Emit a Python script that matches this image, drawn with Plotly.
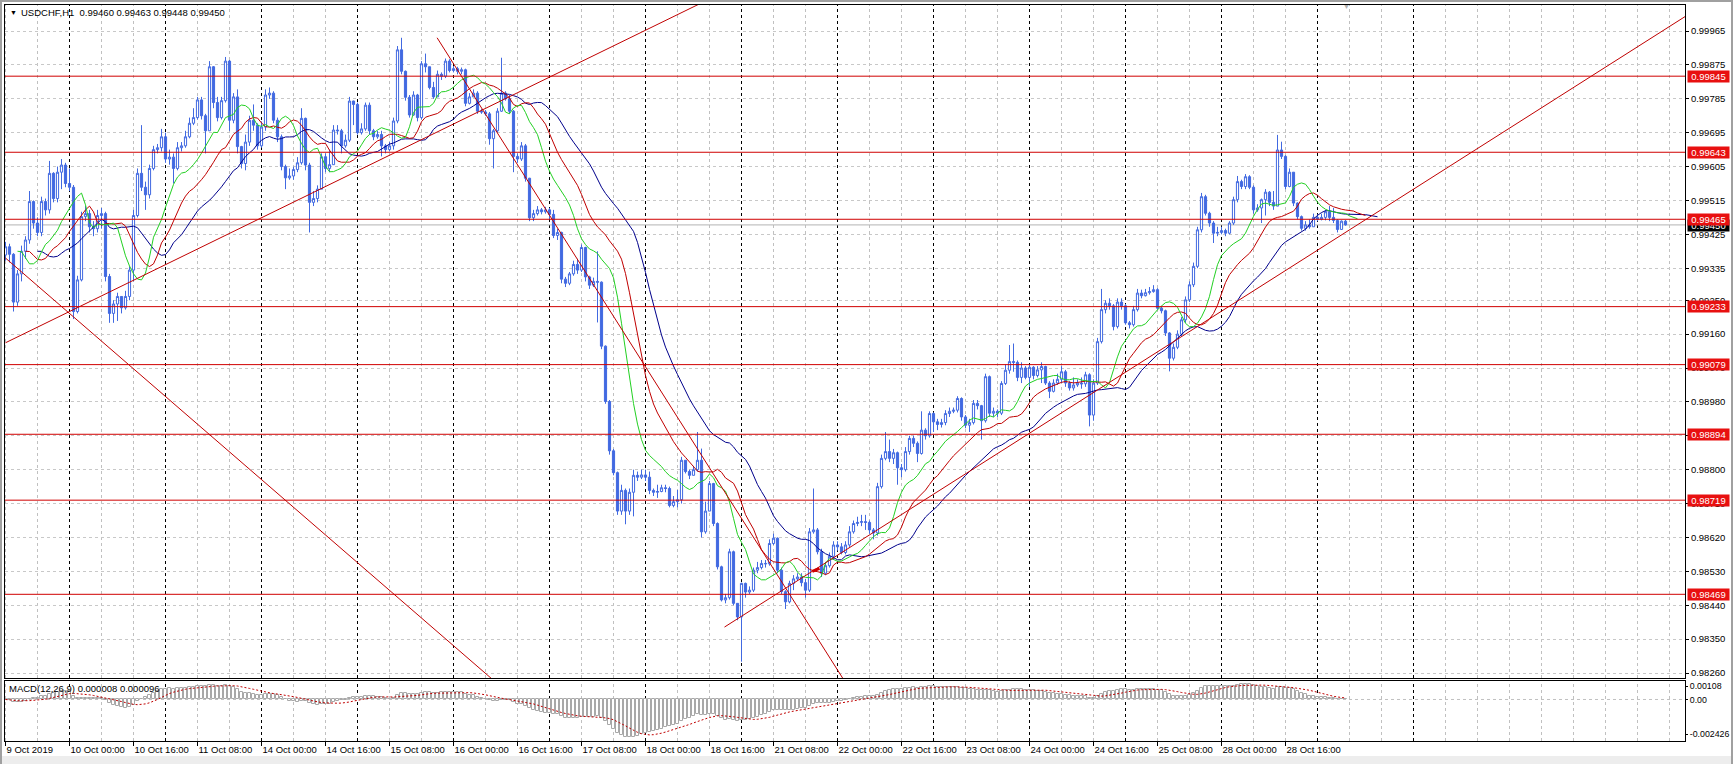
import numpy as np
import pandas as pd
import plotly.graph_objects as go

# ---------------- data ----------------
SYMBOL_TITLE = "USDCHF,H1  0.99460 0.99463 0.99448 0.99450"
MACD_TITLE = "MACD(12,26,9) 0.000008 0.000096"

# hourly bars, prices in units of 0.00001 CHF
FIRST_OPEN_PTS = 99370
CLOSE_PTS = [
    99392, 99372, 99245, 99320, 99380, 99410, 99512, 99455, 99430, 99512,
    99490, 99587, 99520, 99590, 99609, 99560, 99550, 99220, 99304, 99472,
    99480, 99445, 99440, 99475, 99480, 99313, 99215, 99240, 99260, 99230,
    99260, 99330, 99475, 99587, 99550, 99530, 99600, 99650, 99655, 99684,
    99625, 99630, 99600, 99655, 99660, 99684, 99720, 99735, 99782, 99740,
    99700, 99870, 99775, 99735, 99780, 99885, 99728, 99790, 99658, 99613,
    99670, 99728, 99715, 99660, 99710, 99795, 99800, 99728, 99684, 99605,
    99575, 99580, 99597, 99615, 99733, 99609, 99510, 99520, 99545, 99631,
    99600, 99610, 99702, 99700, 99660, 99675, 99779, 99770, 99695, 99705,
    99768, 99700, 99684, 99690, 99660, 99650, 99660, 99726, 99915, 99858,
    99789, 99742, 99795, 99735, 99878, 99870, 99815, 99790, 99850, 99845,
    99885, 99860, 99865, 99858, 99862, 99773, 99790, 99800, 99752, 99750,
    99745, 99679, 99700, 99752, 99800, 99785, 99752, 99632, 99625, 99660,
    99574, 99469, 99480, 99490, 99485, 99490, 99478, 99422, 99430, 99306,
    99295, 99320, 99345, 99330, 99390, 99312, 99290, 99300, 99298, 99128,
    98981, 98850, 98792, 98690, 98745, 98690, 98740, 98785, 98780, 98786,
    98780, 98745, 98740, 98742, 98752, 98750, 98705, 98715, 98720, 98825,
    98795, 98785, 98800, 98825, 98635, 98690, 98763, 98657, 98542, 98454,
    98460, 98582, 98445, 98409, 98498, 98475, 98480, 98533, 98540, 98551,
    98550, 98604, 98618, 98533, 98476, 98449, 98498, 98510, 98515, 98500,
    98480, 98635, 98640, 98582, 98525, 98545, 98570, 98600, 98595, 98580,
    98600, 98635, 98657, 98660, 98662, 98660, 98640, 98632, 98755, 98830,
    98848, 98830, 98845, 98805, 98800, 98848, 98883, 98870, 98843, 98905,
    98890, 98949, 98927, 98920, 98925, 98949, 98955, 98958, 98989, 98940,
    98918, 98925, 98976, 98970, 98930, 99047, 98950, 98955, 98950, 99029,
    99064, 99087, 99085, 99045, 99070, 99045, 99072, 99050, 99065, 99074,
    99030, 99008, 99030, 99040, 99060, 99030, 99017, 99025, 99030, 99028,
    99052, 98945, 99030, 99140, 99225, 99242, 99235, 99180, 99245, 99235,
    99190, 99185, 99225, 99269, 99262, 99270, 99273, 99278, 99229, 99222,
    99163, 99096, 99125, 99160, 99198, 99251, 99291, 99340, 99437, 99525,
    99481, 99455, 99428, 99430, 99435, 99428, 99455, 99517, 99565, 99552,
    99578, 99550, 99490, 99495, 99517, 99537, 99510, 99500, 99649, 99632,
    99552, 99590, 99508, 99472, 99441, 99450, 99445, 99470, 99465, 99470,
    99485, 99470, 99462, 99438, 99460, 99450,
]
HIGH_PTS = [
    99405, 99400, 99375, 99330, 99395, 99420, 99540, 99515, 99470, 99525,
    99520, 99620, 99590, 99605, 99625, 99615, 99600, 99556, 99315, 99485,
    99500, 99490, 99460, 99490, 99495, 99485, 99320, 99250, 99270, 99260,
    99275, 99340, 99490, 99600, 99715, 99565, 99610, 99660, 99665, 99705,
    99695, 99650, 99640, 99670, 99670, 99700, 99735, 99760, 99790, 99790,
    99745, 99885, 99872, 99790, 99790, 99896, 99888, 99800, 99810, 99660,
    99690, 99740, 99770, 99720, 99725, 99810, 99815, 99805, 99735, 99690,
    99610, 99600, 99605, 99630, 99760, 99735, 99615, 99540, 99555, 99640,
    99640, 99650, 99715, 99715, 99705, 99690, 99790, 99780, 99775, 99720,
    99775, 99775, 99705, 99700, 99700, 99665, 99670, 99735, 99925, 99947,
    99860, 99795, 99805, 99798, 99885, 99905, 99870, 99830, 99860, 99855,
    99892, 99890, 99872, 99870, 99868, 99865, 99800, 99810, 99805, 99758,
    99755, 99750, 99705, 99760, 99894, 99805, 99795, 99755, 99640, 99670,
    99665, 99575, 99490, 99500, 99495, 99498, 99495, 99490, 99440, 99432,
    99312, 99325, 99355, 99360, 99398, 99392, 99315, 99310, 99380, 99300,
    99130, 98985, 98855, 98795, 98760, 98750, 98750, 98800, 98795, 98800,
    98800, 98795, 98750, 98760, 98760, 98760, 98755, 98730, 98746, 98834,
    98825, 98800, 98810, 98900, 98856, 98715, 98770, 98765, 98660, 98545,
    98470, 98590, 98585, 98445, 98500, 98500, 98490, 98540, 98555, 98560,
    98560, 98615, 98630, 98620, 98540, 98480, 98505, 98520, 98525, 98525,
    98510, 98645, 98750, 98645, 98590, 98555, 98580, 98610, 98610, 98605,
    98610, 98650, 98665, 98675, 98680, 98680, 98665, 98645, 98765, 98840,
    98900, 98880, 98855, 98848, 98815, 98860, 98890, 98890, 98875, 98955,
    98910, 98955, 98952, 98935, 98935, 98958, 98965, 98965, 98995, 98992,
    98945, 98935, 98985, 98985, 98972, 99055, 99050, 98965, 98960, 99035,
    99080, 99131, 99135, 99090, 99085, 99075, 99080, 99075, 99075, 99085,
    99076, 99035, 99040, 99055, 99075, 99065, 99035, 99045, 99040, 99045,
    99060, 99056, 99040, 99150, 99280, 99250, 99255, 99240, 99255, 99255,
    99240, 99195, 99235, 99280, 99278, 99280, 99285, 99290, 99282, 99235,
    99225, 99165, 99135, 99170, 99205, 99260, 99300, 99350, 99445, 99535,
    99530, 99485, 99460, 99445, 99445, 99440, 99460, 99525, 99580, 99570,
    99585, 99582, 99555, 99505, 99520, 99545, 99540, 99540, 99689, 99671,
    99635, 99600, 99590, 99510, 99475, 99460, 99465, 99480, 99478, 99480,
    99490, 99500, 99495, 99465, 99462, 99463,
]
LOW_PTS = [
    99355, 99350, 99220, 99235, 99300, 99360, 99400, 99440, 99420, 99420,
    99475, 99480, 99510, 99510, 99545, 99550, 99540, 99200, 99215, 99300,
    99460, 99430, 99420, 99430, 99440, 99300, 99190, 99190, 99195, 99215,
    99225, 99250, 99300, 99470, 99540, 99490, 99520, 99595, 99640, 99645,
    99615, 99610, 99560, 99595, 99645, 99655, 99680, 99715, 99730, 99730,
    99640, 99700, 99760, 99725, 99730, 99775, 99700, 99720, 99640, 99600,
    99595, 99660, 99700, 99650, 99655, 99700, 99785, 99720, 99670, 99595,
    99545, 99570, 99570, 99590, 99610, 99595, 99430, 99500, 99510, 99545,
    99590, 99590, 99640, 99690, 99640, 99655, 99670, 99715, 99690, 99690,
    99700, 99690, 99675, 99679, 99632, 99640, 99645, 99650, 99720, 99850,
    99780, 99735, 99740, 99725, 99730, 99855, 99810, 99785, 99790, 99835,
    99840, 99855, 99855, 99850, 99850, 99765, 99770, 99790, 99745, 99745,
    99740, 99663, 99600, 99695, 99750, 99780, 99745, 99590, 99615, 99620,
    99565, 99460, 99460, 99475, 99478, 99480, 99465, 99415, 99410, 99295,
    99285, 99290, 99315, 99320, 99325, 99300, 99280, 99285, 99191, 99120,
    98975, 98840, 98785, 98680, 98680, 98655, 98680, 98676, 98770, 98775,
    98770, 98735, 98730, 98725, 98740, 98740, 98700, 98700, 98700, 98710,
    98790, 98775, 98790, 98795, 98620, 98630, 98700, 98650, 98535, 98450,
    98445, 98455, 98440, 98400, 98290, 98460, 98470, 98475, 98525, 98535,
    98540, 98545, 98600, 98525, 98470, 98430, 98445, 98480, 98505, 98490,
    98460, 98475, 98630, 98575, 98515, 98520, 98540, 98560, 98585, 98575,
    98575, 98595, 98630, 98650, 98650, 98640, 98630, 98615, 98625, 98750,
    98825, 98820, 98815, 98760, 98780, 98795, 98840, 98860, 98820, 98840,
    98880, 98885, 98900, 98905, 98912, 98918, 98940, 98950, 98952, 98930,
    98910, 98900, 98920, 98960, 98880, 98925, 98940, 98940, 98940, 98945,
    99025, 99055, 99060, 99035, 99030, 99040, 99020, 99040, 99045, 99030,
    99025, 98990, 99005, 99025, 99030, 99020, 99010, 99010, 99020, 99015,
    99020, 98915, 98930, 99025, 99135, 99215, 99225, 99170, 99175, 99225,
    99185, 99175, 99180, 99220, 99255, 99260, 99265, 99270, 99225, 99215,
    99155, 99061, 99090, 99120, 99155, 99190, 99245, 99285, 99335, 99430,
    99475, 99445, 99402, 99420, 99425, 99420, 99425, 99450, 99510, 99545,
    99545, 99545, 99480, 99485, 99455, 99475, 99500, 99490, 99530, 99625,
    99545, 99550, 99500, 99465, 99435, 99435, 99440, 99445, 99460, 99462,
    99462, 99460, 99455, 99430, 99440, 99448,
]

TIME_LABELS = [
    "9 Oct 2019", "10 Oct 00:00", "10 Oct 16:00", "11 Oct 08:00", "14 Oct 00:00",
    "14 Oct 16:00", "15 Oct 08:00", "16 Oct 00:00", "16 Oct 16:00", "17 Oct 08:00",
    "18 Oct 00:00", "18 Oct 16:00", "21 Oct 08:00", "22 Oct 00:00", "22 Oct 16:00",
    "23 Oct 08:00", "24 Oct 00:00", "24 Oct 16:00", "25 Oct 08:00", "28 Oct 00:00",
    "28 Oct 16:00",
]
BARS_PER_LABEL = 16
DAY_START_BARS = [16, 40, 64, 88, 112, 136, 160, 184, 208, 232, 256, 280, 304, 328, 352]

LEVELS = [0.99845, 0.99643, 0.99465, 0.99233, 0.99079, 0.98894, 0.98719, 0.98469]
LAST_PRICE = 0.99450
PRICE_TICKS = [0.99965, 0.99875, 0.99785, 0.99695, 0.99605, 0.99515, 0.99425, 0.99335,
               0.99250, 0.99160, 0.99070, 0.98980, 0.98890, 0.98800, 0.98710, 0.98620,
               0.98530, 0.98440, 0.98350, 0.98260]
MACD_MAX, MACD_MIN = 0.00108, -0.002426
MACD_TICK_TEXT = ["0.00108", "0.00", "-0.002426"]

# Alligator lines: (period, forward shift in bars, colour)
ALLIGATOR = [(13, 8, "#00008B"), (8, 5, "#C00000"), (5, 3, "#22D022")]

# drawn trend lines: (bar, price) -> (bar, price)
TRENDLINES = [
    ((0, 0.99137), (176, 1.00050)),
    ((0, 0.99362), (125, 0.98213)),
    ((107.9, 0.99947), (225, 0.97983)),
    ((179.75, 0.98382), (420, 1.00004)),
]
ARROW_MARK = ((201.7, 0.98530), (203.5, 0.98538))

# ---------------- build ----------------
n = min(len(CLOSE_PTS), len(HIGH_PTS), len(LOW_PTS))
close = np.array(CLOSE_PTS[:n]) / 1e5
openp = np.concatenate([[FIRST_OPEN_PTS / 1e5], close[:-1]])
high = np.maximum.reduce([np.array(HIGH_PTS[:n]) / 1e5, openp, close])
low = np.minimum.reduce([np.array(LOW_PTS[:n]) / 1e5, openp, close])
bars = np.arange(n)

median = pd.Series((high + low) / 2)
s = pd.Series(close)
macd = s.ewm(span=12, adjust=False).mean() - s.ewm(span=26, adjust=False).mean()
signal = macd.rolling(9, min_periods=1).mean()

W, H = 1733, 764
L, R, T, B = 5, 48, 5, 23
PW, PH = W - L - R, H - T - B
MAIN_BOTTOM_PX = 678
MACD_TOP_PX = 681
main_dom = [(H - B - MAIN_BOTTOM_PX) / PH, 1]
macd_dom = [0, (H - B - MACD_TOP_PX) / PH]

PX_PER_BAR = 4.0
x_range = [-0.125, PW / PX_PER_BAR - 0.125]

px_per_unit = (673 - 31) / (PRICE_TICKS[0] - PRICE_TICKS[-1])
y_top = PRICE_TICKS[0] + (31 - T) / px_per_unit
y_bot = PRICE_TICKS[-1] - (MAIN_BOTTOM_PX - 673) / px_per_unit

def xp(px):
    return (px - L) / PW

def yp(py):
    return (H - B - py) / PH

BLUE = "#4169E1"
FONT = "Tahoma, Liberation Sans, Arial, sans-serif"

fig = go.Figure()

fig.add_trace(go.Candlestick(
    x=bars, open=openp, high=high, low=low, close=close,
    increasing=dict(line=dict(color=BLUE, width=1), fillcolor="white"),
    decreasing=dict(line=dict(color=BLUE, width=1), fillcolor=BLUE),
    whiskerwidth=0, xaxis="x", yaxis="y", hoverinfo="skip"))

for period, shift, col in ALLIGATOR:
    smma = median.ewm(alpha=1 / period, adjust=False).mean()
    fig.add_trace(go.Scatter(x=bars + shift, y=smma, mode="lines", line=dict(color=col, width=1),
                             xaxis="x", yaxis="y", hoverinfo="skip"))

for (x0, y0), (x1, y1) in TRENDLINES:
    fig.add_trace(go.Scatter(x=[x0, x1], y=[y0, y1], mode="lines",
                             line=dict(color="#C00000", width=1),
                             xaxis="x", yaxis="y", hoverinfo="skip"))
(ax0, ay0), (ax1, ay1) = ARROW_MARK
fig.add_trace(go.Scatter(x=[ax0, ax1], y=[ay0, ay1], mode="lines",
                         line=dict(color="#D00000", width=3),
                         xaxis="x", yaxis="y", hoverinfo="skip"))

# MACD
fig.add_trace(go.Bar(x=bars, y=macd, width=0.7,
                     marker=dict(color="white", line=dict(color="#A8A8A8", width=1)),
                     xaxis="x2", yaxis="y2", hoverinfo="skip"))
fig.add_trace(go.Scatter(x=bars, y=signal, mode="lines",
                         line=dict(color="#C00000", width=1, dash="2px,2px"),
                         xaxis="x2", yaxis="y2", hoverinfo="skip"))

shapes = []
# vertical grid & day separators
for k in range(0, int(x_range[1]) + 1, 8):
    is_day = k in DAY_START_BARS
    col = "#000000" if is_day else "#C0C0C0"
    for xr, yr in [("x", "y domain"), ("x2", "y2 domain")]:
        shapes.append(dict(type="line", xref=xr, yref=yr, x0=k, x1=k, y0=0, y1=1,
                           line=dict(color=col, width=1, dash="3px,3px"), layer="below"))
# MACD zero line
shapes.append(dict(type="line", xref="x2 domain", yref="y2", x0=0, x1=1, y0=0, y1=0,
                   line=dict(color="#C0C0C0", width=1, dash="3px,3px"), layer="below"))
# bid line
shapes.append(dict(type="line", xref="x domain", yref="y", x0=0, x1=1, y0=LAST_PRICE, y1=LAST_PRICE,
                   line=dict(color="#B4B4B4", width=1), layer="below"))
# level lines
for lv in LEVELS:
    shapes.append(dict(type="line", xref="x domain", yref="y", x0=0, x1=1, y0=lv, y1=lv,
                       line=dict(color="#D00000", width=1), layer="above"))
# window frame
shapes.append(dict(type="rect", xref="paper", yref="paper", x0=xp(0), x1=xp(W), y0=yp(756), y1=yp(H),
                   fillcolor="#EDEDED", line=dict(width=0), layer="below"))
shapes.append(dict(type="rect", xref="paper", yref="paper", x0=xp(0), x1=xp(W), y0=yp(2), y1=yp(0),
                   fillcolor="#A0A0A0", line=dict(width=0)))
shapes.append(dict(type="rect", xref="paper", yref="paper", x0=xp(0), x1=xp(2), y0=yp(H), y1=yp(0),
                   fillcolor="#A0A0A0", line=dict(width=0)))
shapes.append(dict(type="rect", xref="paper", yref="paper", x0=xp(W - 2), x1=xp(W), y0=yp(H), y1=yp(0),
                   fillcolor="#A0A0A0", line=dict(width=0)))

ann = []
ann.append(dict(xref="paper", yref="paper", x=xp(8), y=yp(12.7), text="▼", showarrow=False,
                xanchor="left", yanchor="middle", font=dict(size=7, color="black", family=FONT)))
ann.append(dict(xref="paper", yref="paper", x=xp(19), y=yp(12.7), text=SYMBOL_TITLE, showarrow=False,
                xanchor="left", yanchor="middle", font=dict(size=9.5, color="black", family=FONT)))
ann.append(dict(xref="paper", yref="paper", x=xp(7), y=yp(688), text=MACD_TITLE, showarrow=False,
                xanchor="left", yanchor="middle", font=dict(size=9.5, color="black", family=FONT)))
ann.append(dict(xref="x", yref="paper", x=n - 0.75, y=yp(6), text="▼", showarrow=False,
                xanchor="center", yanchor="middle", font=dict(size=7, color="#B0B0B0", family=FONT)))

label_x = xp(L + PW + 2)
ann.append(dict(xref="paper", yref="y", x=label_x, y=LAST_PRICE - 0.00001, text=f"{LAST_PRICE:.5f}",
                showarrow=False, xanchor="left", yanchor="middle", bgcolor="black",
                font=dict(size=9.5, color="white", family=FONT), width=39, height=9, borderpad=1))
for lv in LEVELS:
    ann.append(dict(xref="paper", yref="y", x=label_x, y=lv, text=f"{lv:.5f}",
                    showarrow=False, xanchor="left", yanchor="middle", bgcolor="#E81010",
                    font=dict(size=9.5, color="white", family=FONT), width=39, height=9, borderpad=1))

tick_bars = [i * BARS_PER_LABEL for i in range(len(TIME_LABELS))]
span = MACD_MAX - MACD_MIN
macd_px = 741 - MACD_TOP_PX
macd_tickvals = [MACD_MAX - 5 / macd_px * span, 0.0, MACD_MIN + 7 / macd_px * span]

axis_common = dict(showline=True, mirror=True, linecolor="black", linewidth=1,
                   zeroline=False, fixedrange=True, automargin=False)

fig.update_layout(
    width=W, height=H, margin=dict(l=L, r=R, t=T, b=B, pad=0), autosize=False,
    paper_bgcolor="white", plot_bgcolor="white", showlegend=False,
    font=dict(family=FONT, size=9.5, color="black"),
    boxgap=0.22, bargap=0, hovermode=False,
    xaxis=dict(domain=[0, 1], anchor="y", range=x_range, showticklabels=False, ticks="",
               showgrid=False, rangeslider=dict(visible=False), **axis_common),
    xaxis2=dict(domain=[0, 1], anchor="y2", matches="x", range=x_range,
                tickmode="array", tickvals=tick_bars, ticktext=TIME_LABELS,
                ticks="outside", ticklen=4, tickcolor="black", ticklabelposition="outside right",
                tickfont=dict(size=9.5, family=FONT, color="black"), showgrid=False, **axis_common),
    yaxis=dict(domain=main_dom, anchor="x", side="right", range=[y_bot, y_top],
               tickmode="array", tickvals=PRICE_TICKS, ticktext=[f"{v:.5f}" for v in PRICE_TICKS],
               ticks="outside", ticklen=3, tickcolor="black",
               tickfont=dict(size=9.5, family=FONT, color="black"),
               showgrid=True, gridcolor="#C8C8C8", griddash="3px,3px", gridwidth=1, **axis_common),
    yaxis2=dict(domain=macd_dom, anchor="x2", side="right", range=[MACD_MIN, MACD_MAX],
                tickmode="array", tickvals=macd_tickvals, ticktext=MACD_TICK_TEXT,
                ticks="outside", ticklen=2, tickcolor="black",
                tickfont=dict(size=8.8, family=FONT, color="black"), showgrid=False, **axis_common),
    shapes=shapes, annotations=ann,
)

fig.write_html("out.html", config={"displayModeBar": False},
               post_script="document.body.style.margin='0';document.body.style.padding='0';"
                           "document.body.style.overflow='hidden';")
